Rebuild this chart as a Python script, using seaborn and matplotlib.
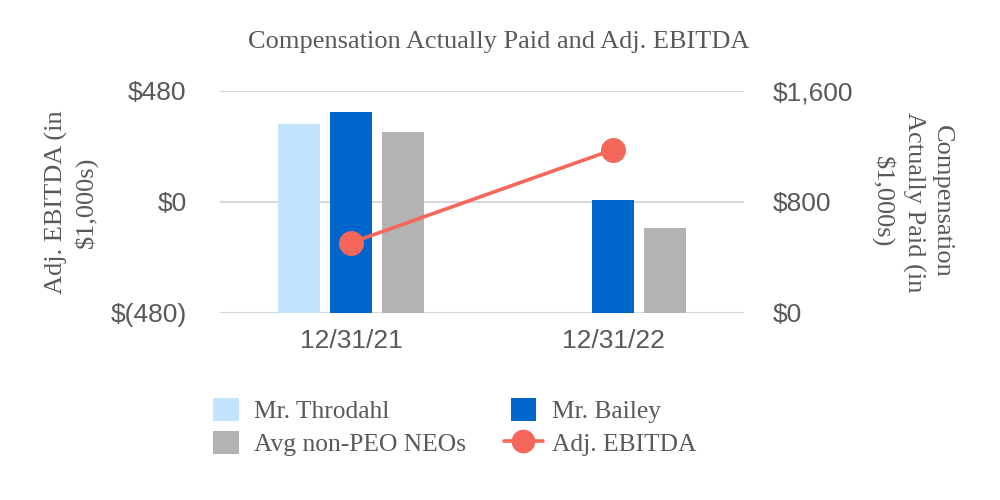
import matplotlib
matplotlib.use("Agg")
import matplotlib.pyplot as plt
from matplotlib.lines import Line2D
from matplotlib.patches import Patch
from matplotlib.legend_handler import HandlerLine2D
import seaborn as sns
import pandas as pd
import numpy as np

# ---- data ----
dates = ["12/31/21", "12/31/22"]
throdahl = [1362, np.nan]
bailey = [1448, 813]
avg_neo = [1304, 611]
ebitda = [-177, 226]
series_names = ["Mr. Throdahl", "Mr. Bailey", "Avg non-PEO NEOs"]
left_ticks = [-480, 0, 480]
left_ticklabels = ["$(480)", "$0", "$480"]
right_ticks = [0, 800, 1600]
right_ticklabels = ["$0", "$800", "$1,600"]

colors = {"Mr. Throdahl": "#C2E4FC", "Mr. Bailey": "#0066CC", "Avg non-PEO NEOs": "#B3B3B3"}
line_color = "#F4675A"
text_color = "#595959"
grid_color = "#D9D9D9"

rows = []
for name, vals in zip(series_names, [throdahl, bailey, avg_neo]):
    for d, v in zip(dates, vals):
        if not np.isnan(v):
            rows.append({"date": d, "series": name, "value": v})
bars_df = pd.DataFrame(rows)
line_df = pd.DataFrame({"date": dates, "ebitda": ebitda})

sns.set_theme(style="white")
plt.rcParams["font.family"] = ["Liberation Serif", "DejaVu Serif"]

fig = plt.figure(figsize=(10, 5), dpi=100)
ax = fig.add_axes([0.22, 0.3746, 0.524, 0.4434])  # left axis: EBITDA
ax2 = ax.twinx()  # right axis: compensation

sns.barplot(data=bars_df, x="date", y="value", hue="series", order=dates,
            hue_order=series_names, palette=colors, width=0.6, gap=0.2,
            ax=ax2, legend=False, saturation=1, edgecolor="none")
sns.pointplot(data=line_df, x="date", y="ebitda", order=dates, ax=ax,
              color=line_color, markers="o", markersize=16, linewidth=2.6,
              errorbar=None)

ax.set_zorder(ax2.get_zorder() + 1)
ax.patch.set_visible(False)

ax.set_xlim(-0.5, 1.5)
ax.set_ylim(-480, 480)
ax2.set_ylim(0, 1600)
ax.set_yticks(left_ticks)
ax.set_yticklabels(left_ticklabels)
ax2.set_yticks(right_ticks)
ax2.set_yticklabels(right_ticklabels)

for a in (ax, ax2):
    for s in a.spines.values():
        s.set_visible(False)
    a.tick_params(axis="both", length=0, labelsize=19, labelcolor=text_color)
    for lbl in a.get_yticklabels() + a.get_xticklabels():
        lbl.set_fontfamily("Liberation Sans")
    a.set_xlabel("")
ax.tick_params(axis="y", pad=24)
ax2.tick_params(axis="y", pad=21)
ax.tick_params(axis="x", pad=12)
ax2.tick_params(axis="x", labelbottom=False)
ax.set_xticks([0, 1])
ax.set_xticklabels(dates)
for lbl in ax.get_xticklabels():
    lbl.set_fontfamily("Liberation Sans")

ax2.grid(False)
ax.grid(False)
for t in right_ticks:
    ax2.axhline(t, color=grid_color, linewidth=1.5, zorder=0)

ax.set_ylabel("Adj. EBITDA (in\n$1,000s)", fontsize=19, color=text_color,
              linespacing=1.35, va="center", ha="center")
ax.yaxis.set_label_coords(-0.284, 0.5)
ax2.set_ylabel("Compensation\nActually Paid (in\n$1,000s)", fontsize=19,
               color=text_color, rotation=-90, linespacing=1.35, va="center",
               ha="center")
ax2.yaxis.set_label_coords(1.3206, 0.5)

fig.suptitle("Compensation Actually Paid and Adj. EBITDA", x=0.4985, y=0.916,
             va="center", fontsize=19, color=text_color)


class WideLine(HandlerLine2D):
    def create_artists(self, legend, orig_handle, xdescent, ydescent, width,
                       height, fontsize, trans):
        return super().create_artists(legend, orig_handle, xdescent + 5,
                                      ydescent, width + 10, height, fontsize, trans)


h_thro = Patch(facecolor=colors["Mr. Throdahl"], edgecolor="none")
h_bail = Patch(facecolor=colors["Mr. Bailey"], edgecolor="none")
h_avg = Patch(facecolor=colors["Avg non-PEO NEOs"], edgecolor="none")
h_line = Line2D([], [], color=line_color, marker="o", markersize=16, linewidth=2.6)
leg = fig.legend([h_thro, h_avg, h_bail, h_line],
                 ["Mr. Throdahl", "Avg non-PEO NEOs", "Mr. Bailey", "Adj. EBITDA"],
                 ncol=2, loc="center left", bbox_to_anchor=(0.19, 0.146),
                 frameon=False, fontsize=18.4, handlelength=1.0, handleheight=1.0,
                 handletextpad=0.6, columnspacing=1.75, labelspacing=0.3,
                 handler_map={h_line: WideLine()})
for t in leg.get_texts():
    t.set_color(text_color)

fig.savefig("out.png", dpi=100)
